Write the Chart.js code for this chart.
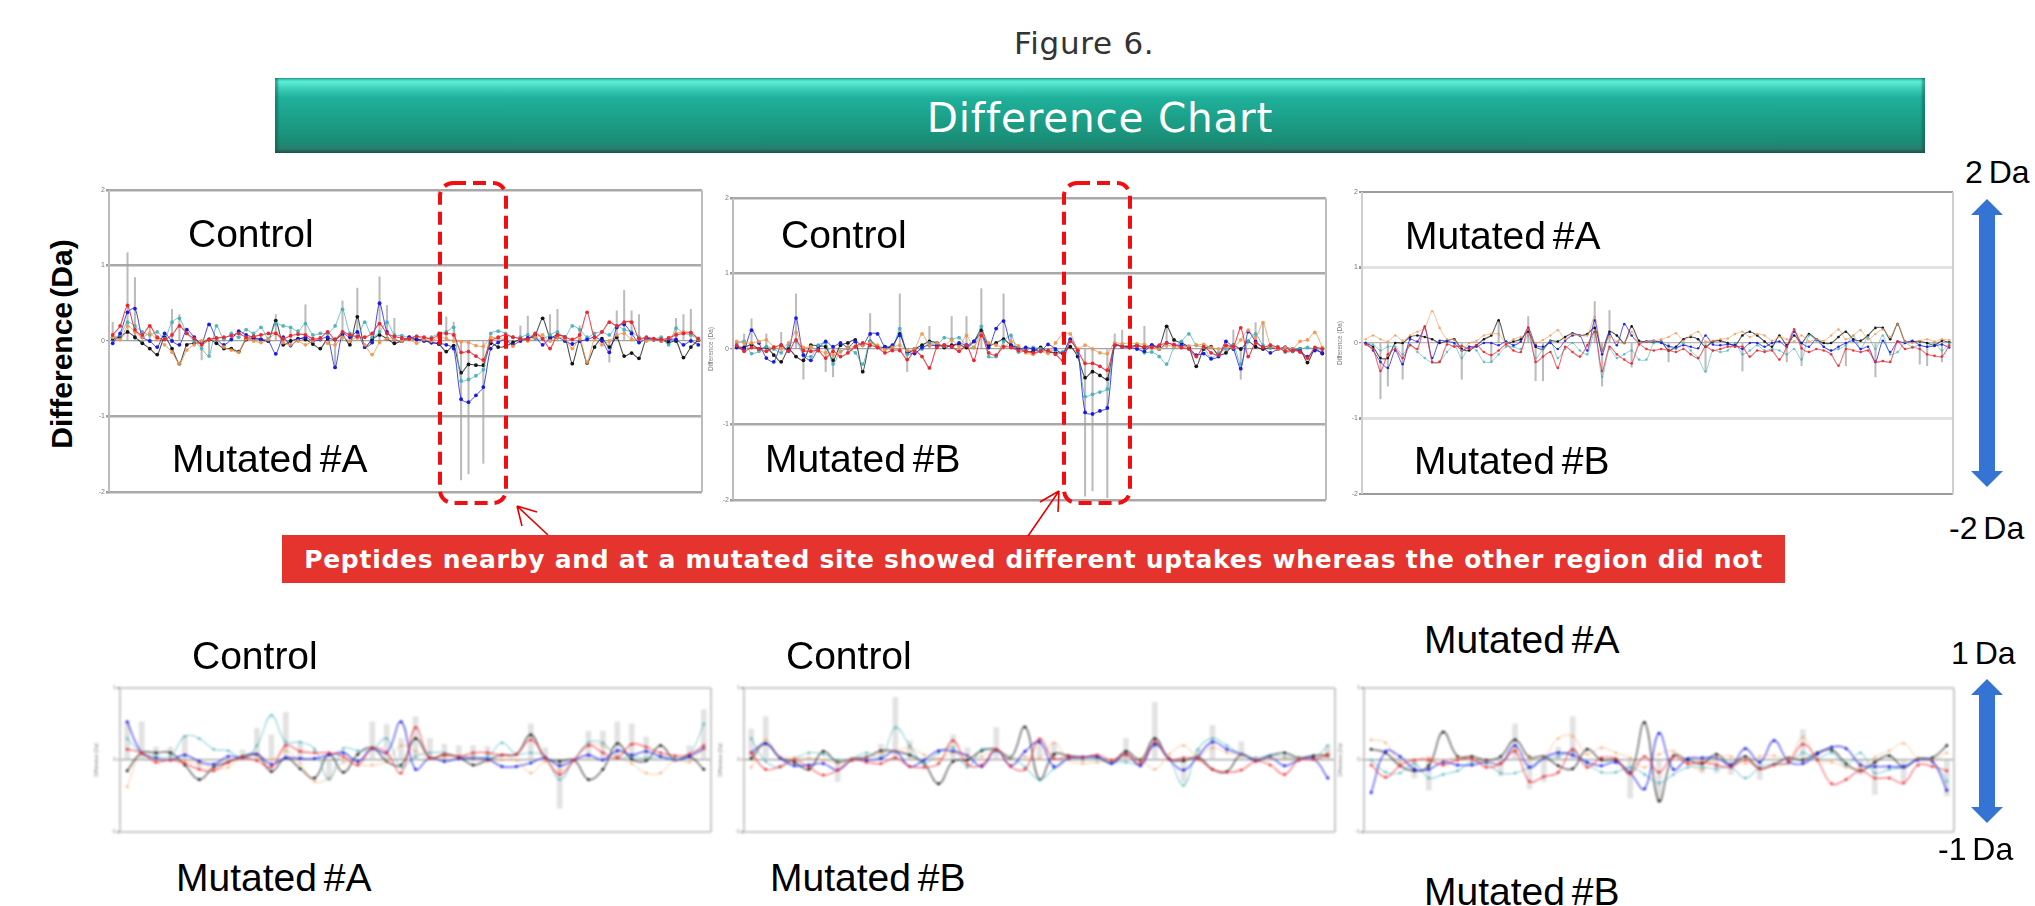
<!DOCTYPE html>
<html><head><meta charset="utf-8"><title>Figure 6</title>
<script src="https://cdn.jsdelivr.net/npm/chart.js@4/dist/chart.umd.js"></script>
<style>
html,body{margin:0;padding:0;background:#fff}
#page{position:relative;width:2035px;height:906px;overflow:hidden;background:#fff}
.chartbox{position:absolute}
.chartbox canvas{display:block}
.t{position:absolute;white-space:nowrap;font-family:"Liberation Sans",Arial,sans-serif;color:#000;line-height:1;transform:translateY(-50%)}
.lab{font-size:39px;word-spacing:-4px;line-height:.7}
.da{font-size:32px;word-spacing:-3px}
#banner{position:absolute;left:275px;top:78px;width:1650px;height:75px;background:linear-gradient(180deg,#2fb7a2 0,#5cf0d8 5%,#45d4bc 12%,#1fb19b 26%,#1c9f88 55%,#1a8d75 85%,#2d7c6b 94%,#155a50 100%);box-shadow:inset 3px 0 2px rgba(10,80,70,.45),inset -3px 0 2px rgba(10,80,70,.45)}
#btxt{position:absolute;left:0;right:0;top:0;height:75px;text-align:center;color:#fff;font:40.5px/81px "DejaVu Sans",sans-serif;letter-spacing:.8px}
#redbar{position:absolute;left:282px;top:535px;width:1503px;height:48px;background:#e5332e;color:#fff;font:bold 25px/50px "DejaVu Sans",sans-serif;text-align:center;letter-spacing:.72px}
svg{position:absolute;left:0;top:0}
</style></head><body><div id="page"></div>
<script>
// ---------- Top row, Control vs Mutated #A ----------
const a1Black=[.03,.05,.12,.05,-.03,-.1,-.18,.05,-.1,-.3,
-.05,-.03,-.02,.02,-.03,-.1,-.1,-.14,.02,.03,
.02,0,.27,-.05,0,.03,.02,-.04,-.1,.03,
.02,.08,-.05,.32,-.08,.02,.08,.03,-.03,0,
.03,.02,.01,-.02,-.04,-.14,-.06,-.42,-.31,-.32,
-.32,-.03,-.08,-.07,-.02,.02,.03,.08,.3,.05,
.08,.05,-.3,0,-.29,-.08,.03,-.08,.05,-.2,
-.16,-.23,.03,.02,.02,-.02,0,-.22,-.08,.01];
const a1Blue=[-.03,.1,.38,.43,.05,0,-.08,.1,0,-.05,
.15,.05,-.03,.22,.03,-.05,.02,.13,.08,.05,
.02,0,-.17,.05,-.06,.02,.05,0,.02,.05,
-.35,.1,.05,.12,-.08,-.02,.5,.12,.02,0,
.05,.02,0,-.02,-.03,-.05,-.1,-.77,-.81,-.72,
-.61,-.1,-.02,.02,-.05,0,.04,.05,-.05,.03,
.05,0,-.04,0,.02,.05,0,-.15,.18,.22,
.1,-.02,.03,.02,0,.02,.02,-.05,0,-.05];
const a1Red=[.08,.2,.47,.15,.08,.2,.05,.02,.08,.2,
.1,.03,-.05,.02,.04,.05,.07,.1,.05,.06,
.08,.1,.1,.03,.07,.09,.08,.03,.04,.12,
.02,.12,.08,.06,.05,.1,.23,.1,.06,.04,
.03,.06,.05,.03,.08,.1,.08,-.15,-.14,-.2,
-.25,0,.05,.08,.05,.03,.02,.1,.03,-.1,
.08,.05,.02,.08,.38,.05,.12,.25,.2,.25,
.25,.03,.05,.03,.02,.04,.08,.1,.11,.03];
const a1Teal=[.05,.08,.25,.2,.12,.08,.12,.03,.25,.3,
.1,0,-.1,-.2,.2,.02,.1,.05,.15,.1,
.18,.03,.23,.2,.18,.13,.23,.08,.1,.1,
.2,.42,.1,.05,.25,.05,.12,.25,.08,.07,
.05,.06,.02,.05,.1,.12,.18,-.53,-.51,-.46,
-.38,.1,.13,.1,.05,.05,.08,.03,.03,.08,
.12,.05,.2,.15,.05,.1,.12,.08,.2,.15,
.12,.05,.03,.02,.05,-.05,.17,.1,.08,.02];
const a1Orange=[.05,.02,.2,.12,.05,.1,.02,-.05,-.15,-.3,
-.12,-.05,0,.02,.03,-.08,-.12,-.15,.03,0,
-.02,.02,.1,-.02,-.05,0,-.05,0,.03,-.03,
-.05,.05,0,.05,-.05,-.18,-.02,.03,.02,0,
.02,-.03,.02,0,.05,.03,0,-.01,-.02,-.06,
-.07,.05,.03,.02,-.07,.03,0,.05,.08,0,
.05,.03,-.1,.03,-.28,.02,-.05,0,.08,.1,
.02,.03,0,.02,0,.04,.1,.12,.11,.02];
const a1ErrAt=[0,2,3,5,8,9,12,13,22,24,26,30,31,33,36,37,38,45,46,47,48,50,55,56,57,59,60,63,67,68,69,70,71,76,77,78];
const a1ErrTo=[.25,1.17,.84,.2,.42,.35,-.25,-.18,.35,.15,.48,-.35,.53,.7,.85,.47,.3,.32,.25,-1.84,-1.76,-1.62,.2,.33,.1,.35,.42,.2,-.28,.4,.67,.4,.35,.3,.35,.42];
// ---------- Top row, Control vs Mutated #B ----------
const a2Black=[.03,.02,.06,0,.02,-.08,-.17,0,-.1,-.15,
.05,.04,.03,-.15,.05,.08,.12,-.3,.1,.03,
.02,.03,.2,-.05,0,.05,.1,.08,.02,.05,
.06,.02,.1,.25,.05,.08,.13,.05,.02,-.03,
-.03,.02,-.04,-.05,-.05,.03,-.1,-.38,-.3,-.35,
-.4,.05,.04,.03,.05,.02,.05,.03,.3,.12,
.08,.02,-.23,0,.03,-.08,-.05,.05,0,.1,
.03,0,.02,0,.02,-.03,0,-.18,0,-.06];
const a2Blue=[.02,0,.25,.08,-.12,-.17,.05,-.02,.41,-.08,
-.15,0,.1,.03,.08,.02,.1,.05,.2,.2,
.03,.05,.18,-.03,-.06,.02,.05,.04,.05,.03,
.08,.05,.1,.2,.02,.27,.37,.05,0,.02,
0,-.03,.06,0,-.06,.13,-.02,-.84,-.86,-.82,
-.78,.05,.03,.02,0,-.03,.05,0,.08,.05,
.05,.02,-.08,-.06,-.13,-.1,.1,0,-.26,.23,
.1,.02,-.05,0,.02,0,-.03,-.1,-.02,-.05];
const a2Red=[.05,-.03,.02,0,-.03,.02,.05,-.03,.12,-.02,
-.03,-.02,-.12,-.03,-.1,-.05,.03,.08,.05,.02,
-.05,-.02,-.02,-.14,-.03,-.1,-.25,.02,.05,.03,
-.03,.05,-.15,.18,-.05,-.08,.03,.02,-.02,-.03,
-.05,-.03,-.02,-.07,-.15,.1,-.02,-.19,-.19,-.23,
-.28,.05,.03,.02,.04,.03,.02,.05,.08,.06,
.02,0,-.1,.03,-.05,-.08,.05,.03,.28,-.1,
.08,.02,.05,.02,-.03,-.02,-.04,-.12,.02,0];
const a2Teal=[.08,.1,-.06,-.03,.03,0,-.05,.05,.1,-.08,
-.1,.05,.08,-.2,-.03,0,-.05,-.2,.1,.02,
.03,-.01,.27,-.07,-.05,0,.08,.05,.15,.13,
.15,.05,.02,.3,-.1,-.1,.1,.18,-.04,-.02,
.02,0,-.03,-.02,-.04,.1,-.05,-.63,-.6,-.57,
-.53,.06,.04,.05,.02,-.05,-.04,-.1,-.2,.02,
.1,.2,.05,.02,-.12,-.05,0,.05,-.2,.1,
.2,.05,.02,.03,-.04,-.03,0,.02,0,0];
const a2Orange=[.1,.08,.08,.1,.12,.03,0,.08,.22,.02,
.03,-.02,-.05,-.08,-.04,.02,.03,.05,.08,.05,
-.01,.02,.05,-.02,0,.2,.05,.08,.04,.12,
.03,.18,.02,.2,.08,.05,.02,.1,.04,-.05,
-.07,-.03,-.06,.08,.2,.2,0,.05,0,-.05,
-.06,.08,.07,.08,.07,.06,.02,0,.05,.03,
.02,.04,.05,.06,.02,0,.03,.02,.12,.25,
.15,.35,.05,0,.02,0,.1,.12,.22,.02];
const a2ErrAt=[1,2,4,6,8,9,12,13,16,18,22,23,26,29,31,33,36,37,47,48,50,51,52,55,58,67,68,70,71];
const a2ErrTo=[.2,.4,.2,.22,.73,-.4,-.3,-.37,.12,.47,.73,-.3,.3,.43,.43,.8,.73,.2,-1.95,-1.88,-1.97,.2,.25,.3,.3,.25,-.4,.35,.35];
// ---------- Top row, Mutated #A vs Mutated #B ----------
const a3Black=[0,-.05,-.2,-.2,0,0,.08,.1,.08,.05,
0,.03,.05,-.08,-.1,-.03,.05,.1,.3,0,
.02,.05,.15,-.05,-.08,.03,.02,.08,.13,.1,
.12,.2,-.1,.15,.1,0,.22,.03,.02,.01,
.02,-.1,-.05,.05,.08,.05,-.05,.02,.03,0,
-.03,.1,.15,.1,.02,-.05,.1,-.03,.1,0,
.12,.05,0,0,.08,.15,.05,.03,.1,.2,
.2,.05,.25,.02,.02,.02,0,-.03,.03,.01];
const a3Blue=[0,-.1,-.25,-.33,-.1,-.28,.05,.02,.2,-.2,
.03,.02,0,-.1,-.05,-.05,0,0,-.03,.02,
-.03,.02,.2,-.03,-.05,0,-.08,.03,.1,.1,
-.1,.3,-.15,.12,-.03,.25,.1,0,.02,.03,
0,-.04,-.06,-.03,-.05,-.07,.1,-.02,-.03,-.02,
-.03,-.08,0,0,-.05,0,.02,-.05,.15,0,
-.05,.05,-.05,-.1,-.05,0,.03,-.08,-.05,-.25,
.03,-.12,.02,0,.03,-.03,-.05,-.04,-.02,-.06];
const a3Red=[-.02,-.08,-.37,-.15,-.08,-.2,-.03,-.08,.22,-.25,
-.25,-.02,-.05,-.04,-.08,-.03,-.12,-.16,-.1,-.02,
-.1,-.12,.2,-.25,-.18,-.12,-.33,-.05,-.12,-.18,
-.03,.15,-.37,-.05,-.15,-.22,-.27,-.02,-.08,-.1,
-.08,-.1,-.12,-.08,-.15,-.2,-.05,-.1,-.08,-.05,
-.05,-.05,-.18,-.1,-.12,-.1,-.22,-.05,.18,-.07,
-.12,-.08,-.1,-.15,-.3,-.08,-.1,-.12,-.1,-.25,
-.24,-.25,.02,-.08,-.06,-.08,-.15,-.17,-.18,-.03];
const a3Teal=[0,-.02,-.1,-.05,-.05,-.15,-.02,-.12,-.2,-.26,
-.25,-.12,-.03,-.2,-.05,-.1,-.25,-.25,-.15,-.05,
-.05,-.08,.1,-.2,-.08,.03,-.2,-.08,0,-.1,
-.15,.15,-.45,-.08,-.2,-.15,-.1,-.22,-.22,0,
.02,-.05,-.08,0,-.1,-.2,-.38,-.1,-.12,-.1,
0,-.15,-.1,-.03,-.1,-.08,-.1,-.15,-.08,-.22,
.1,.03,-.05,-.1,-.08,-.03,.1,-.08,.08,-.08,
.1,-.15,-.12,0,-.05,-.03,-.05,0,-.1,0];
const a3Orange=[.05,.1,.05,.02,.1,.03,.1,.15,.2,.42,
.2,.05,.04,-.1,0,.03,.1,.12,.12,0,
.05,.08,.12,0,.04,.1,.17,.05,.12,.1,
.1,.35,-.1,.08,.02,0,.15,0,.02,.03,
.05,.08,.13,.03,.1,.15,.02,.03,.05,.06,
.12,.15,.08,.12,.1,.03,.08,.05,.02,.1,
.02,.05,.03,.1,.18,.05,.1,.17,.05,.12,
.18,.08,.25,.02,0,.03,.05,.02,.05,.04];
const a3ErrAt=[2,3,5,13,17,18,22,23,24,31,32,33,36,41,46,51,57,59,65,69,75,76,78];
const a3ErrTo=[-.74,-.57,-.48,-.48,-.25,.3,.35,-.5,-.5,.55,-.57,.43,-.32,-.25,-.38,-.37,-.25,-.3,-.3,-.45,-.28,-.3,-.25];
// ---------- Bottom row, Control vs Mutated #A ----------
const b1Black=[-.15,.1,.1,.1,-.07,-.27,-.1,-.03,.05,.08,-.16,.03,-.12,-.25,.08,-.17,.08,.17,-.02,-.07,.3,.03,.07,.04,-.07,0,.07,.08,.35,.03,-.02,0,-.27,-.13,.23,.01,-.01,.2,0,.05,-.13];
const b1Blue=[.53,.1,.02,0,.07,-.02,-.06,.05,.03,.08,-.06,.03,.02,.02,.07,.1,-.02,.16,.1,.53,-.13,.03,-.02,.02,.02,.01,-.09,-.09,-.04,.03,-.08,0,.07,0,.13,.07,.12,.05,0,.05,.16];
const b1Red=[.15,.1,-.03,0,-.05,-.13,-.15,-.03,.03,-.01,-.1,.2,.12,.1,.1,.05,-.07,.16,.1,-.18,.45,.03,.08,.05,.1,.1,.07,.08,.28,.03,-.2,0,.2,.1,.03,.22,.18,.1,.06,.08,.2];
const b1Teal=[.3,.1,.05,.05,.33,.3,.15,.13,.03,.2,.62,.25,.25,.15,-.27,.16,.13,.15,.3,-.1,.05,.1,.1,.05,.05,.05,.24,.08,.1,.05,-.27,0,.24,.24,.03,.05,.02,.05,.03,.08,.5];
const b1Orange=[-.37,.1,0,0,-.02,-.05,-.12,-.1,.03,.06,0,.13,-.05,-.3,-.25,-.03,-.07,-.07,-.02,.2,.12,.03,.05,.05,.03,-.02,0,0,-.18,-.02,-.15,0,.2,.2,.05,-.05,-.18,-.18,0,-.03,.15];
const b1ErrAt=[0,1,2,3,4,5,8,9,10,11,12,14,17,18,19,20,21,22,23,24,25,28,29,30,32,33,34,35,36,39,40];
const b1ErrTo=[.53,.53,.18,.18,.33,-.1,.14,.44,.35,.66,.25,-.27,.53,.49,.3,.6,.3,.22,.2,.2,.19,.5,.17,-.67,.4,.4,.53,.5,.32,.2,.7];
// ---------- Bottom row, Control vs Mutated #B ----------
const b2Black=[.02,.23,.03,-.03,-.13,.12,-.03,.02,.04,.13,.12,.07,-.05,-.33,-.02,0,.13,.15,.03,.46,-.27,.08,.06,.04,.04,-.04,.12,0,.3,.02,-.01,.04,-.13,-.16,.08,-.01,.06,.1,.03,.06,.07];
const b2Blue=[.1,.23,.03,-.08,-.07,-.05,-.14,0,0,.02,.12,-.09,0,.13,.12,.06,-.09,.14,-.08,.12,.25,-.09,.02,.04,.05,-.05,.08,-.08,.22,.01,-.14,.05,.25,.15,.08,0,.04,-.08,0,.02,-.25];
const b2Red=[.1,-.13,-.09,0,-.1,-.21,-.14,0,-.03,-.05,.03,-.09,-.1,-.05,.27,-.06,-.07,.15,-.09,-.13,.29,.02,.05,.03,.07,0,.08,-.05,.25,.01,.03,.01,-.13,-.17,-.14,-.02,-.07,-.2,0,.01,.06];
const b2Teal=[.3,-.02,-.1,.02,.1,.08,0,.02,.1,.03,.45,.2,-.05,.1,.17,-.1,.15,.12,.05,-.1,-.27,-.12,.03,0,.02,-.03,-.03,-.05,.2,.01,-.35,.15,.3,.2,.08,.03,.07,.05,.02,.02,.2];
const b2Orange=[-.1,.28,.05,.03,.03,0,-.04,.02,.03,.1,.12,.17,.07,.02,.1,.05,.05,.15,.03,.05,.02,.24,0,-.05,-.03,-.01,.05,.02,-.13,.08,.2,.05,.17,.1,.07,.02,.03,.02,.02,0,.1];
const b2ErrAt=[0,1,6,9,10,11,14,15,17,20,21,26,28,30,31,32,34,40];
const b2ErrTo=[.43,.6,-.3,.22,.87,.27,.35,.17,.45,.3,.24,.3,.8,-.3,.15,.48,.25,.2];
// ---------- Bottom row, Mutated #A vs Mutated #B ----------
const b3Black=[.15,.1,-.08,-.15,-.08,.39,.05,.05,0,.05,.28,.04,.05,-.08,-.12,.15,0,0,-.18,.52,-.57,.06,0,-.05,.08,-.07,.05,-.12,-.06,.03,0,.1,.14,-.05,-.15,-.03,.06,-.1,.02,.03,.2];
const b3Blue=[-.45,.12,.05,-.13,-.13,-.03,-.07,-.07,-.03,-.05,.2,-.1,.03,.1,.07,-.03,-.08,-.03,-.18,-.4,.37,-.13,.02,.03,.03,-.07,.16,-.03,.27,-.02,-.05,.08,.18,.16,-.07,-.09,-.09,-.09,0,-.02,-.42];
const b3Red=[-.07,-.24,-.08,0,0,-.07,0,.02,-.1,-.05,.12,-.3,-.23,-.17,.15,-.1,.03,.02,-.19,.05,-.17,.05,-.05,-.03,-.07,-.1,0,-.12,-.07,-.03,.22,0,-.33,-.27,-.15,-.25,-.25,-.32,-.07,-.09,-.15];
const b3Teal=[0,-.17,-.18,-.05,-.25,-.2,-.15,-.03,-.05,-.18,-.18,-.1,.02,.05,.12,-.05,-.17,-.17,-.1,-.2,-.32,-.2,-.1,-.1,-.12,-.1,-.25,-.1,-.05,-.05,.1,.02,.1,-.08,.1,-.18,-.13,-.1,0,-.02,-.3];
const b3Orange=[.28,.24,-.03,0,.03,0,.03,0,-.02,-.05,.15,.03,.04,.3,.33,.08,.17,.1,.03,-.1,.08,.12,-.05,-.13,.03,.05,-.05,.05,.06,.02,.32,0,-.03,-.1,-.1,.04,.13,.23,.02,0,.1];
const b3ErrAt=[3,4,9,10,11,12,13,14,18,20,23,24,25,27,30,34,35,37,40];
const b3ErrTo=[-.25,-.42,-.22,.5,-.4,-.3,.18,.6,-.53,-.57,-.18,-.18,-.2,-.27,.42,-.2,-.48,-.3,-.5];

const topTicks=[-2,-1,0,1,2];
const bottomTicks=[-1,0,1];
const titleTop="Difference (Da)";
const titleBottom="Difference (Da)";

const page=document.getElementById('page');

const frame={id:'frame',beforeDatasetsDraw(c){
  const o=c.options.plugins.frame, a=c.chartArea, g=c.ctx;
  g.save();g.strokeStyle=o.color;g.lineWidth=o.width;
  g.beginPath();g.moveTo(a.left,a.top);g.lineTo(a.left,a.bottom);g.moveTo(a.right,a.top);g.lineTo(a.right,a.bottom);g.stroke();
  g.restore();
}};

function hex(c,al){return `rgba(${c[0]},${c[1]},${c[2]},${al})`}
const cols=[[240,150,80],[70,175,185],[235,40,50],[25,25,225],[20,20,20]];
const drawOrder=[3,5,2,4,6];
function makeChart(s){
  const box=document.createElement('div');
  const ml=26,mr=6,mt=8,mb=8;
  box.className='chartbox';
  const W=s.r-s.l+ml+mr,H=s.b-s.t+mt+mb;
  box.style.cssText=`left:${s.l-ml}px;top:${s.t-mt}px;width:${W}px;height:${H}px;filter:blur(${s.blur}px)`;
  const cv=document.createElement('canvas');cv.width=W;cv.height=H;box.appendChild(cv);page.appendChild(box);
  const labels=s.series[0].map((_,i)=>i);
  const err=labels.map(i=>{const k=s.errAt.indexOf(i);return k<0?null:s.errTo[k]});
  const ds=s.series.map((d,i)=>({type:'line',data:d,borderColor:hex(cols[i],s.lineA[i]),backgroundColor:hex(cols[i],s.ptA[i]),
    borderWidth:s.lineW[i],pointRadius:s.ptR,pointBorderWidth:0,tension:s.tension,order:drawOrder[i]}));
  ds.push({type:'bar',data:err,backgroundColor:s.errCol,barThickness:s.errW,order:9});
  new Chart(cv,{data:{labels,datasets:ds},plugins:[frame],options:{
    responsive:false,animation:false,
    layout:{padding:{top:mt,bottom:mb,left:0,right:mr}},
    plugins:{legend:{display:false},tooltip:{enabled:false},frame:{color:s.frameCol,width:s.frameW}},
    scales:{
      x:{display:false,offset:true},
      y:{min:s.ticks[0],max:s.ticks[s.ticks.length-1],
        afterBuildTicks(ax){ax.ticks=s.ticks.map(v=>({value:v}))},
        afterFit(ax){ax.width=ml},
        border:{display:false},
        grid:{color:c=>s.gridCol(c.tick.value),lineWidth:c=>s.gridW(c.tick.value),drawTicks:true,tickLength:3,tickColor:'#999'},
        ticks:{color:'#777',font:{size:s.tickSize,family:'Liberation Sans'},padding:1,autoSkip:false,callback:v=>String(v)},
        title:{display:!!s.yTitle,text:s.yTitle||'',color:'#777',font:{size:s.titleSize,family:'Liberation Sans'},padding:0}
      }
    }
  }});
}

const gridTop=v=>v===0?'rgba(140,140,140,.8)':'#a9a9a9';
const gridWTop=v=>v===0?1.2:2.5;

Chart.defaults.font.family='Liberation Sans';

const specs=[
 {l:109,r:702,t:190,b:492,series:[a1Orange,a1Teal,a1Red,a1Blue,a1Black],errAt:a1ErrAt,errTo:a1ErrTo},
 {l:733,r:1326,t:198,b:500,series:[a2Orange,a2Teal,a2Red,a2Blue,a2Black],errAt:a2ErrAt,errTo:a2ErrTo,yTitle:titleTop},
 {l:1362,r:1953,t:192,b:494,series:[a3Orange,a3Teal,a3Red,a3Blue,a3Black],errAt:a3ErrAt,errTo:a3ErrTo,yTitle:titleTop,pale:true}
];
const specsB=[
 {l:120,r:711,t:688,b:832,series:[b1Orange,b1Teal,b1Red,b1Blue,b1Black],errAt:b1ErrAt,errTo:b1ErrTo},
 {l:744,r:1335,t:688,b:832,series:[b2Orange,b2Teal,b2Red,b2Blue,b2Black],errAt:b2ErrAt,errTo:b2ErrTo},
 {l:1364,r:1954,t:688,b:832,series:[b3Orange,b3Teal,b3Red,b3Blue,b3Black],errAt:b3ErrAt,errTo:b3ErrTo}
];
function build(s,topRow){
  const o=Object.assign({},s);
  o.ticks=topRow?topTicks:bottomTicks;
  o.blur=topRow?.6:1;
  o.tension=topRow?.25:.42;
  o.ptR=topRow?(s.pale?1.3:1.9):1.5;
  o.errW=topRow?1.4:5;
  o.errCol=topRow?'rgba(160,160,160,.7)':'rgba(190,190,190,.45)';
  o.frameCol=topRow?(s.pale?'#cfcfcf':'#bdbdbd'):'#c8c8c8';o.frameW=2;
  o.tickSize=topRow?7:5;o.titleSize=topRow?6.5:5;
  o.yTitle=topRow?s.yTitle:titleBottom;
  o.lineA=topRow?(s.pale?[.6,.6,.7,.75,.7]:[.85,.75,.85,.8,.75]):[.5,.6,.7,.7,.55];
  o.ptA=topRow?(s.pale?[.7,.7,.9,.9,1]:[.9,.9,1,1,1]):[.6,.7,.9,1,.9];
  o.lineW=topRow?[1,1,1.1,1,1.1]:[1,1.1,1.2,1.4,1.7];
  o.gridCol=topRow?(s.pale?(v=>v===0?'rgba(150,150,150,.7)':(Math.abs(v)===1?'#e2e2e2':'#9c9c9c')):gridTop):(v=>v===0?'#999':'#c9c9c9');
  o.gridW=topRow?(s.pale?(v=>v===0?1.2:(Math.abs(v)===1?3:2)):gridWTop):(v=>v===0?1.2:2);
  makeChart(o);
}
specs.forEach(s=>build(s,true));
specsB.forEach(s=>build(s,false));

function txt(s,x,y,cls,extra){const d=document.createElement('div');d.className='t '+(cls||'');d.textContent=s;d.style.left=x+'px';d.style.top=y+'px';if(extra)d.style.cssText+=';'+extra;page.appendChild(d);return d}

txt('Figure 6.',1014,43,'','font:31px/1 "DejaVu Sans",sans-serif;color:#333;letter-spacing:.7px');
const ban=document.createElement('div');ban.id='banner';ban.innerHTML='<div id="btxt">Difference Chart</div>';page.appendChild(ban);
const rb=document.createElement('div');rb.id='redbar';rb.textContent='Peptides nearby and at a mutated site showed different uptakes whereas the other region did not';page.appendChild(rb);

[['Control',188,234],['Mutated #A',172,459],['Control',781,235],['Mutated #B',765,459],['Mutated #A',1405,236],['Mutated #B',1414,461],
 ['Control',192,656],['Control',786,656],['Mutated #A',1424,640],['Mutated #A',176,878],['Mutated #B',770,878],['Mutated #B',1424,892]
].forEach(a=>txt(a[0],a[1],a[2],'lab'));
[['2 Da',1965,172],['-2 Da',1949,528],['1 Da',1951,653],['-1 Da',1938,849]].forEach(a=>txt(a[0],a[1],a[2],'da'));

txt('Difference (Da)',62,344,'','font:bold 30px/1 "Liberation Sans",sans-serif;word-spacing:-4px;transform:translate(-50%,-50%) rotate(-90deg)');

const NS='http://www.w3.org/2000/svg';
const svg=document.createElementNS(NS,'svg');svg.setAttribute('width',2035);svg.setAttribute('height',906);
svg.innerHTML=`
<rect x="440" y="183" width="66" height="320" rx="13" fill="none" stroke="#f30d10" stroke-width="4" stroke-dasharray="13 7"/>
<rect x="1064" y="183" width="66" height="320" rx="13" fill="none" stroke="#f30d10" stroke-width="4" stroke-dasharray="13 7"/>
<g fill="none" stroke="#e60000" stroke-width="1.6">
<path d="M548 535 L517 506 M517 506 L537 512 M517 506 L522 526"/>
<path d="M1028 536 L1059 491 M1059 491 L1040 502 M1059 491 L1058 512"/>
</g>
<g fill="#3574d4">
<path d="M1987 199 L2003 215 L1995 215 L1995 471 L2003 471 L1987 487 L1971 471 L1979 471 L1979 215 L1971 215 Z"/>
<path d="M1987 679 L2003 695 L1995 695 L1995 807 L2003 807 L1987 823 L1971 807 L1979 807 L1979 695 L1971 695 Z"/>
</g>`;
page.appendChild(svg);
</script></body></html>
